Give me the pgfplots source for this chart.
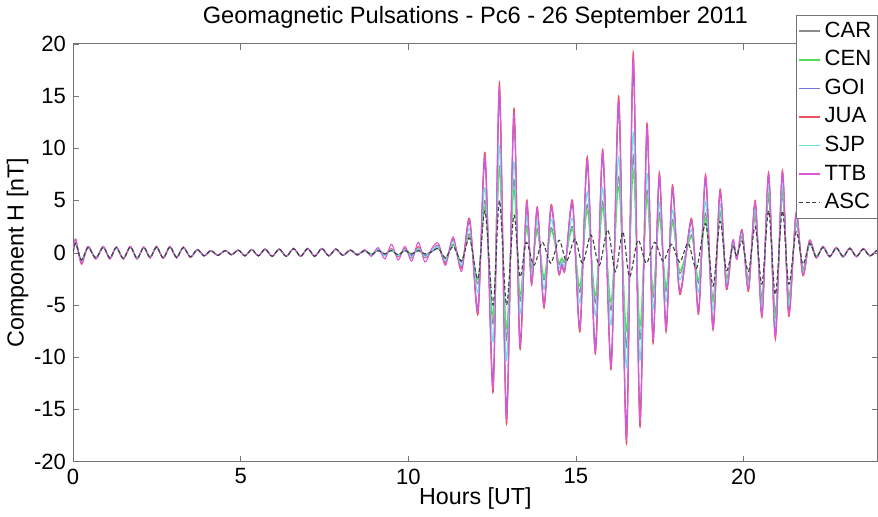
\documentclass[border=0pt]{standalone}
\usepackage{pgfplots}
\pgfplotsset{compat=1.18}
\usepackage{pgfplotstable}
\usepackage{fontspec}
\setmainfont{Liberation Sans}
\definecolor{cCAR}{rgb}{0.55,0.55,0.55}
\definecolor{cCEN}{rgb}{0.35,0.85,0.35}
\definecolor{cGOI}{rgb}{0.45,0.45,0.88}
\definecolor{cJUA}{rgb}{0.92,0.32,0.38}
\definecolor{cSJP}{rgb}{0.40,0.90,0.90}
\definecolor{cTTB}{rgb}{0.85,0.35,0.85}
\definecolor{cASC}{rgb}{0.25,0.25,0.25}
\definecolor{axgray}{rgb}{0.45,0.45,0.45}

\pgfplotstableread{
h JUA TTB GOI SJP CAR CEN
0 0 0 0 0 0 0
0.08 1.3 1.3 1.0 1.1 0.9 0.9
0.25 -1.1 -1.0 -0.8 -0.9 -0.7 -0.7
0.45 0.6 0.6 0.55 0.55 0.5 0.5
0.68 -0.6 -0.6 -0.55 -0.55 -0.5 -0.5
0.90 0.6 0.6 0.55 0.55 0.55 0.55
1.10 -0.6 -0.6 -0.55 -0.55 -0.55 -0.55
1.29 0.55 0.55 0.5 0.5 0.5 0.5
1.50 -0.6 -0.6 -0.55 -0.55 -0.55 -0.55
1.71 0.6 0.6 0.55 0.55 0.55 0.55
1.91 -0.6 -0.6 -0.55 -0.55 -0.55 -0.55
2.11 0.55 0.55 0.5 0.5 0.5 0.5
2.30 -0.5 -0.5 -0.45 -0.45 -0.45 -0.45
2.49 0.6 0.6 0.55 0.55 0.55 0.55
2.69 -0.55 -0.55 -0.5 -0.5 -0.5 -0.5
2.89 0.6 0.6 0.55 0.55 0.55 0.55
3.09 -0.5 -0.5 -0.45 -0.45 -0.45 -0.45
3.29 0.55 0.55 0.5 0.5 0.5 0.5
3.50 -0.45 -0.45 -0.4 -0.4 -0.4 -0.4
3.71 0.3 0.3 0.3 0.3 0.3 0.3
3.91 -0.3 -0.3 -0.3 -0.3 -0.3 -0.3
4.11 0.2 0.2 0.2 0.2 0.2 0.2
4.32 -0.25 -0.25 -0.25 -0.25 -0.25 -0.25
4.54 0.2 0.2 0.2 0.2 0.2 0.2
4.73 -0.2 -0.2 -0.2 -0.2 -0.2 -0.2
4.93 0.25 0.25 0.25 0.25 0.25 0.25
5.13 -0.3 -0.3 -0.3 -0.3 -0.3 -0.3
5.33 0.3 0.3 0.3 0.3 0.3 0.3
5.53 -0.3 -0.3 -0.3 -0.3 -0.3 -0.3
5.73 0.35 0.35 0.35 0.35 0.35 0.35
5.94 -0.35 -0.35 -0.35 -0.35 -0.35 -0.35
6.15 0.35 0.35 0.35 0.35 0.35 0.35
6.36 -0.35 -0.35 -0.35 -0.35 -0.35 -0.35
6.58 0.4 0.4 0.4 0.4 0.4 0.4
6.79 -0.35 -0.35 -0.35 -0.35 -0.35 -0.35
7.00 0.4 0.4 0.4 0.4 0.4 0.4
7.21 -0.35 -0.35 -0.35 -0.35 -0.35 -0.35
7.42 0.4 0.4 0.4 0.4 0.4 0.4
7.63 -0.3 -0.3 -0.3 -0.3 -0.3 -0.3
7.84 0.35 0.35 0.35 0.35 0.35 0.35
8.05 -0.25 -0.25 -0.25 -0.25 -0.25 -0.25
8.27 0.25 0.25 0.25 0.25 0.25 0.25
8.48 -0.2 -0.25 -0.2 -0.2 -0.15 -0.15
8.70 0.2 0.3 0.2 0.2 0.15 0.2
8.90 -0.2 -0.35 -0.2 -0.2 -0.15 -0.1
9.10 0.3 0.5 0.3 0.3 0.2 0.3
9.30 -0.3 -0.6 -0.2 -0.3 -0.2 -0.1
9.50 0.4 0.8 0.3 0.3 0.3 0.2
9.70 -0.4 -0.7 -0.3 -0.3 -0.2 -0.2
9.90 0.4 0.6 0.3 0.3 0.2 0.3
10.10 -0.5 -0.8 -0.3 -0.4 -0.2 -0.1
10.30 0.6 1.0 0.4 0.4 0.2 0.3
10.50 -0.5 -0.9 -0.3 -0.4 -0.2 -0.2
10.70 0.2 0.4 0.1 0.2 0.1 0.1
10.90 0.7 0.9 0.6 0.6 0.4 0.4
11.11 -1.0 -1.2 -0.9 -0.8 -0.6 -0.5
11.34 1.3 1.5 1.2 1.1 0.8 0.7
11.59 -1.5 -1.8 -1.4 -1.2 -0.9 -0.8
11.83 3.3 3.1 2.9 2.3 1.8 1.6
12.08 -5.9 -5.6 -5.2 -3.8 -3.0 -2.6
12.29 9.6 9.2 8.6 6.2 5.0 4.4
12.53 -13.4 -13.0 -12.2 -8.5 -6.8 -6.0
12.72 16.3 15.8 14.8 10.2 8.2 8.0
12.93 -16.4 -15.9 -15.0 -10.3 -8.3 -7.2
13.15 13.8 13.3 12.6 8.7 7.0 6.0
13.33 -9.2 -8.8 -8.4 -5.8 -4.6 -4.0
13.53 5.0 4.8 4.5 3.4 2.6 2.3
13.68 -3.1 -3.0 -2.9 -2.0 -1.5 -1.3
13.85 4.4 4.2 4.0 3.0 2.3 2.0
14.05 -5.3 -5.1 -4.8 -3.5 -2.6 -2.3
14.26 4.6 4.4 4.2 3.2 2.4 2.1
14.48 -1.9 -1.8 -1.7 -1.3 -1.0 -0.8
14.58 -1.2 -1.1 -1.1 -0.8 -0.6 -0.5
14.68 -1.6 -1.5 -1.4 -1.1 -0.8 -0.7
14.90 5.0 4.8 4.5 3.3 2.5 2.2
15.12 -7.6 -7.3 -7.0 -4.8 -3.8 -3.2
15.34 9.2 8.9 8.4 5.8 4.6 4.0
15.58 -9.7 -9.4 -8.8 -6.0 -4.8 -4.1
15.80 9.9 9.6 9.1 6.2 4.9 4.3
16.05 -11.2 -10.9 -10.2 -6.9 -5.5 -4.7
16.28 15.0 14.5 13.6 9.2 7.3 6.3
16.51 -18.3 -17.8 -16.7 -11.0 -9.0 -7.4
16.71 19.2 18.7 17.6 11.5 9.3 7.8
16.91 -16.7 -16.2 -15.2 -10.3 -8.3 -7.0
17.12 12.4 12.0 11.2 7.6 6.0 5.2
17.30 -8.7 -8.4 -7.9 -5.4 -4.3 -3.6
17.49 7.7 7.4 7.0 4.8 3.8 3.3
17.69 -7.6 -7.3 -6.9 -4.7 -3.7 -3.2
17.88 6.5 6.3 5.9 4.1 3.2 2.8
18.10 -4.0 -3.8 -3.6 -2.6 -2.0 -1.7
18.45 3.3 3.1 2.9 2.2 1.7 1.5
18.66 -5.9 -5.7 -5.4 -3.8 -2.9 -2.6
18.87 7.5 7.3 6.9 4.9 3.8 3.3
19.09 -7.4 -7.2 -6.9 -5.5 -4.4 -4.7
19.30 6.1 5.9 5.7 4.7 3.8 4.0
19.49 -3.5 -3.3 -3.2 -2.9 -2.4 -2.5
19.68 1.2 1.2 1.1 1.0 0.8 0.9
19.80 -0.6 -0.6 -0.6 -0.5 -0.4 -0.4
19.96 2.2 2.1 2.1 1.9 1.5 1.6
20.15 -3.7 -3.5 -3.4 -3.1 -2.5 -2.7
20.35 5.0 4.8 4.7 4.2 3.4 3.7
20.55 -6.2 -6.0 -5.8 -5.2 -4.3 -4.6
20.75 7.7 7.5 7.2 6.5 5.3 5.7
20.95 -8.3 -8.0 -7.8 -7.0 -5.7 -6.2
21.16 7.9 7.7 7.4 6.6 5.5 5.9
21.35 -6.1 -5.9 -5.7 -5.1 -4.2 -4.5
21.57 3.9 3.7 3.6 3.2 2.7 2.9
21.77 -2.2 -2.1 -2.1 -1.9 -1.5 -1.7
21.97 1.2 1.2 1.1 1.0 0.8 0.9
22.17 -0.5 -0.5 -0.5 -0.4 -0.4 -0.3
22.37 0.6 0.6 0.6 0.55 0.5 0.5
22.57 -0.4 -0.4 -0.4 -0.4 -0.35 -0.35
22.77 0.5 0.5 0.5 0.45 0.45 0.45
22.97 -0.4 -0.4 -0.4 -0.4 -0.35 -0.35
23.17 0.45 0.45 0.45 0.4 0.4 0.4
23.37 -0.4 -0.4 -0.4 -0.4 -0.35 -0.35
23.57 0.4 0.4 0.4 0.35 0.35 0.35
23.77 -0.3 -0.3 -0.3 -0.3 -0.3 -0.3
23.97 0.2 0.2 0.2 0.2 0.2 0.2
24.00 0.1 0.1 0.1 0.1 0.1 0.1
}\datamain

\pgfplotstableread{
h ASC
0 0
0.08 0.9
0.25 -0.7
0.45 0.5
0.68 -0.5
0.90 0.5
1.10 -0.5
1.29 0.5
1.50 -0.55
1.71 0.55
1.91 -0.55
2.11 0.5
2.30 -0.45
2.49 0.55
2.69 -0.5
2.89 0.55
3.09 -0.45
3.29 0.5
3.50 -0.4
3.71 0.3
3.91 -0.3
4.11 0.2
4.32 -0.25
4.54 0.2
4.73 -0.2
4.93 0.25
5.13 -0.3
5.33 0.3
5.53 -0.3
5.73 0.35
5.94 -0.35
6.15 0.35
6.36 -0.35
6.58 0.4
6.79 -0.35
7.00 0.4
7.21 -0.35
7.42 0.4
7.63 -0.3
7.84 0.35
8.05 -0.25
8.27 0.25
8.48 -0.2
8.70 0.2
8.90 -0.2
9.10 0.2
9.30 -0.1
9.50 0.2
9.70 -0.2
9.90 0.2
10.10 -0.1
10.30 0.2
10.50 -0.1
10.70 0.1
10.90 0.4
11.11 -0.5
11.34 0.6
11.59 -0.8
11.83 1.4
12.08 -2.5
12.29 4.0
12.53 -5.0
12.72 5.0
12.93 -5.0
13.15 3.6
13.33 -2.3
13.52 1.0
13.75 -1.2
14.00 1.0
14.25 -1.0
14.50 1.2
14.72 -0.8
14.97 1.3
15.20 -1.0
15.45 1.7
15.70 -1.2
15.95 2.2
16.18 -1.8
16.40 2.0
16.60 -2.3
16.85 1.2
17.10 -1.0
17.35 1.0
17.60 -0.8
17.85 0.8
18.10 -0.9
18.35 0.9
18.60 -1.5
18.87 2.8
19.09 -3.2
19.30 3.0
19.49 -1.7
19.68 0.6
19.80 -0.3
19.96 1.1
20.15 -1.8
20.35 2.5
20.55 -3.0
20.75 4.0
20.95 -4.0
21.16 4.0
21.35 -3.0
21.57 2.0
21.77 -1.1
21.97 0.9
22.17 -0.4
22.37 0.5
22.57 -0.35
22.77 0.45
22.97 -0.35
23.17 0.4
23.37 -0.35
23.57 0.35
23.77 -0.3
23.97 0.2
24.00 0.1
}\dataasc

\begin{document}
\begin{tikzpicture}
\begin{axis}[
  scale only axis,
  width=401.5pt, height=208.5pt,
  xmin=0, xmax=24, ymin=-20, ymax=20,
  xtick={0,5,10,15,20},
  ytick={-20,-15,...,20},
  tick align=inside,
  major tick length=3pt,
  axis line style={axgray},
  tick style={axgray},
  every tick label/.append style={font=\fontsize{11}{13}\selectfont},
  /pgf/number format/assume math mode=true,
  title={Geomagnetic Pulsations - Pc6 - 26 September 2011},
  title style={font=\fontsize{11.8}{14}\selectfont, yshift=-2pt},
  xlabel={Hours [UT]},
  ylabel={Component H [nT]},
  label style={font=\fontsize{11.6}{14}\selectfont},
  xlabel style={yshift=5pt},
  ylabel style={yshift=-4pt},
  legend style={at={(1,1.07)}, anchor=north east, draw=axgray,
    font=\fontsize{11}{13}\selectfont, row sep=1.1pt, inner xsep=1pt, inner ysep=1.5pt},
  legend cell align=left,
  legend image code/.code={\draw[#1, line width=0.8pt] (0cm,0cm) -- (0.36cm,0cm);},
  every axis plot/.append style={line width=0.55pt, smooth, tension=0.5},
]
\addplot[cCAR] table[x=h, y=CAR] {\datamain};
\addlegendentry{CAR}
\addplot[cCEN] table[x=h, y=CEN] {\datamain};
\addlegendentry{CEN}
\addplot[cGOI] table[x=h, y=GOI] {\datamain};
\addlegendentry{GOI}
\addplot[cJUA] table[x=h, y=JUA] {\datamain};
\addlegendentry{JUA}
\addplot[cSJP] table[x=h, y=SJP] {\datamain};
\addlegendentry{SJP}
\addplot[cTTB] table[x=h, y=TTB] {\datamain};
\addlegendentry{TTB}
\addplot[cASC, dashed, dash pattern=on 2pt off 1.2pt] table[x=h, y=ASC] {\dataasc};
\addlegendentry{ASC}
\end{axis}
\end{tikzpicture}
\end{document}
